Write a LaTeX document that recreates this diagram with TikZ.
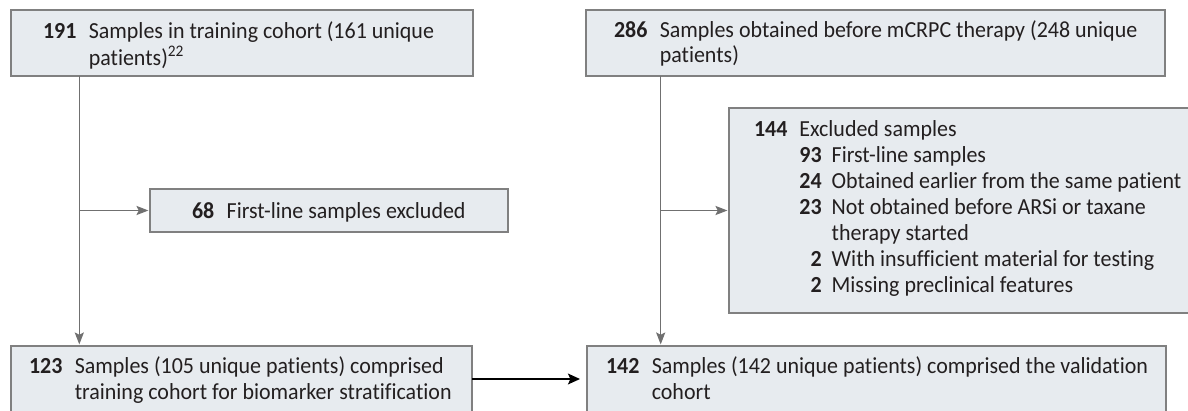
\documentclass[tikz,border=0pt]{standalone}
\usepackage{fontspec}
\setmainfont{Carlito}[FakeStretch=0.955, Ligatures=NoCommon]
\usetikzlibrary{arrows.meta}
\definecolor{boxfill}{RGB}{231,235,239}
\definecolor{boxline}{RGB}{128,128,128}
\definecolor{conn}{RGB}{112,112,112}
\definecolor{ink}{RGB}{35,31,32}
\newcommand{\nb}[1]{\textbf{#1}}
\begin{document}
\begin{tikzpicture}[x=0.5pt,y=-0.5pt,
  box/.style={draw=boxline, fill=boxfill, line width=0.6pt, rectangle,
    inner sep=0pt, outer sep=0pt, anchor=north west},
  txt/.style={anchor=base west, inner sep=0pt, outer sep=0pt, text=ink,
    font=\fontsize{11.5}{13}\selectfont},
  garrow/.style={draw=conn, line width=0.55pt,
    -{Stealth[length=6pt, width=4.6pt, inset=1.2pt]}, shorten >=0.8pt},
  barrow/.style={draw=black, line width=0.9pt,
    -{Stealth[length=6pt, width=5.4pt, inset=1.2pt]}, shorten >=3.5pt}]
\useasboundingbox (0,0) rectangle (1188,411);
\clip (0,0) rectangle (1188,411);

% boxes
\node[box, minimum width=231pt,   minimum height=33pt]   (boxA) at (11,10) {};
\node[box, minimum width=289.5pt, minimum height=33pt]   (boxB) at (586,10) {};
\node[box, minimum width=179pt,   minimum height=21.5pt] (boxC) at (150,189) {};
\node[box, minimum width=235.5pt, minimum height=102.5pt](boxD) at (729,108) {};
\node[box, minimum width=230.5pt, minimum height=39.5pt] (boxE) at (11,346) {};
\node[box, minimum width=289.5pt, minimum height=39.5pt] (boxF) at (587,346) {};

% box texts
\node[txt, font=\fontsize{11.5}{12}\selectfont] (tA) at (43,39) {%
  \begin{tabular}[t]{@{}r@{\hspace{6.2pt}}l@{}}
  \nb{191} & Samples in training cohort (161 unique\\
           & patients)\textsuperscript{22}
  \end{tabular}};
\node[txt, font=\fontsize{11.5}{12.5}\selectfont] (tB) at (614,38) {%
  \begin{tabular}[t]{@{}r@{\hspace{6.2pt}}l@{}}
  \nb{286} & Samples obtained before mCRPC therapy (248 unique\\
           & patients)
  \end{tabular}};
\node[txt] (tC) at (192,219) {\nb{68}\hspace{6.2pt}First-line samples excluded};
\node[txt] (tD) at (754,137) {%
  \begin{tabular}[t]{@{}r@{\hspace{6pt}}r@{\hspace{5pt}}l@{}}
  \nb{144} & \multicolumn{2}{@{}l@{}}{Excluded samples}\\
   & \nb{93} & First-line samples\\
   & \nb{24} & Obtained earlier from the same patient\\
   & \nb{23} & Not obtained before ARSi or taxane\\
   &         & therapy started\\
   & \nb{2}  & With insufficient material for testing\\
   & \nb{2}  & Missing preclinical features
  \end{tabular}};
\node[txt] (tE) at (29,373) {%
  \begin{tabular}[t]{@{}r@{\hspace{6.2pt}}l@{}}
  \nb{123} & Samples (105 unique patients) comprised\\
           & training cohort for biomarker stratification
  \end{tabular}};
\node[txt] (tF) at (606,373) {%
  \begin{tabular}[t]{@{}r@{\hspace{6.2pt}}l@{}}
  \nb{142} & Samples (142 unique patients) comprised the validation\\
           & cohort
  \end{tabular}};

% connector junctions
\coordinate (jl) at (79.3,210.5);
\coordinate (jr) at (660.7,210.5);
\coordinate (jb) at (530,379);

% connectors
\draw[garrow] (boxA.south -| jl) -- (boxE.north -| jl);
\draw[garrow] (jl) -- (jl -| boxC.west);
\draw[garrow] (boxB.south -| jr) -- (boxF.north -| jr);
\draw[garrow] (jr) -- (jr -| boxD.west);
\draw[barrow] (boxE.east |- jb) -- (boxF.west |- jb);
\end{tikzpicture}
\end{document}
